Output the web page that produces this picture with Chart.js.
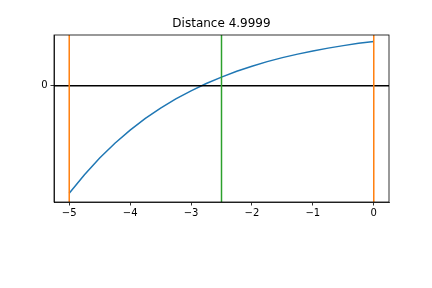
<!DOCTYPE html>
<html><head><meta charset="utf-8">
<script src="https://cdn.jsdelivr.net/npm/chart.js@4.4.0/dist/chart.umd.min.js"></script>
<style>html,body{margin:0;padding:0;background:#fff}#c{display:block}</style>
</head><body>
<canvas id="c" width="432" height="288"></canvas>
<script>
const titleText = 'Distance 4.9999';
const curveX = [-5,-4.75,-4.5,-4.25,-4,-3.75,-3.5,-3.25,-3,-2.75,-2.5,-2.25,-2,-1.75,-1.5,-1.25,-1,-0.75,-0.5,-0.25,0];
const curveY = [-1.073,-0.887,-0.721,-0.574,-0.443,-0.326,-0.223,-0.131,-0.050,0.023,0.087,0.145,0.195,0.241,0.281,0.316,0.348,0.376,0.401,0.424,0.443];
const hLineY = 0;
const orangeX = [-5, 0];
const greenX = -2.5;
const xTicks = [-5,-4,-3,-2,-1,0];
const xTickLabels = ['\u22125','\u22124','\u22123','\u22122','\u22121','0'];
const yTicks = [0];
const yTickLabels = ['0'];
const xMin = -5.25, xMax = 0.25, yMin = -1.16, yMax = 0.507;

const vline = (x, color) => ({data:[{x:x,y:yMin},{x:x,y:yMax}], borderColor:color, borderWidth:1.5, pointRadius:0, showLine:true, fill:false});

const datasets = [
  vline(orangeX[0], '#ff7f0e'),
  vline(orangeX[1], '#ff7f0e'),
  vline(greenX, '#2ca02c'),
  {data:[{x:xMin,y:hLineY},{x:xMax,y:hLineY}], borderColor:'#000', borderWidth:1.5, pointRadius:0, showLine:true},
  {data:curveX.map((x,i)=>({x:x,y:curveY[i]})), borderColor:'#1f77b4', borderWidth:1.5, pointRadius:0, showLine:true, tension:0}
];

const font = {family:'DejaVu Sans', size:10};
new Chart(document.getElementById('c'), {
  type:'scatter',
  data:{datasets},
  options:{
    responsive:false, animation:false, devicePixelRatio:1,
    layout:{padding:{left:0,right:43,top:0,bottom:0}},
    plugins:{legend:{display:false}, tooltip:{enabled:false},
      title:{display:true, text:titleText, fullSize:false, color:'#000', font:{family:'DejaVu Sans', size:12, weight:'normal'}, padding:{top:17,bottom:3.6}}},
    scales:{
      x:{type:'linear', min:xMin, max:xMax,
        afterBuildTicks:s=>{s.ticks = xTicks.map(v=>({value:v}));},
        afterFit:s=>{s.height = 86;},
        ticks:{color:'#000', font, padding:2, maxRotation:0, autoSkip:false, callback:(v)=>xTickLabels[xTicks.indexOf(v)]},
        grid:{drawOnChartArea:false, drawTicks:true, tickLength:3.5, color:'#000', lineWidth:0.8},
        border:{display:true, color:'#000', width:0.8}},
      y:{type:'linear', min:yMin, max:yMax,
        afterBuildTicks:s=>{s.ticks = yTicks.map(v=>({value:v}));},
        afterFit:s=>{s.width = 54;},
        ticks:{color:'#000', font, padding:3, callback:(v)=>yTickLabels[yTicks.indexOf(v)]},
        grid:{drawOnChartArea:false, drawTicks:true, tickLength:3.5, color:'#000', lineWidth:0.8},
        border:{display:true, color:'#000', width:0.8}}
    }
  },
  plugins:[{id:'frame', afterDraw(chart){const a=chart.chartArea,c=chart.ctx;c.save();c.strokeStyle='#000';c.lineWidth=0.8;c.strokeRect(a.left,a.top,a.right-a.left,a.bottom-a.top);c.restore();}}]
});
</script>
</body></html>
